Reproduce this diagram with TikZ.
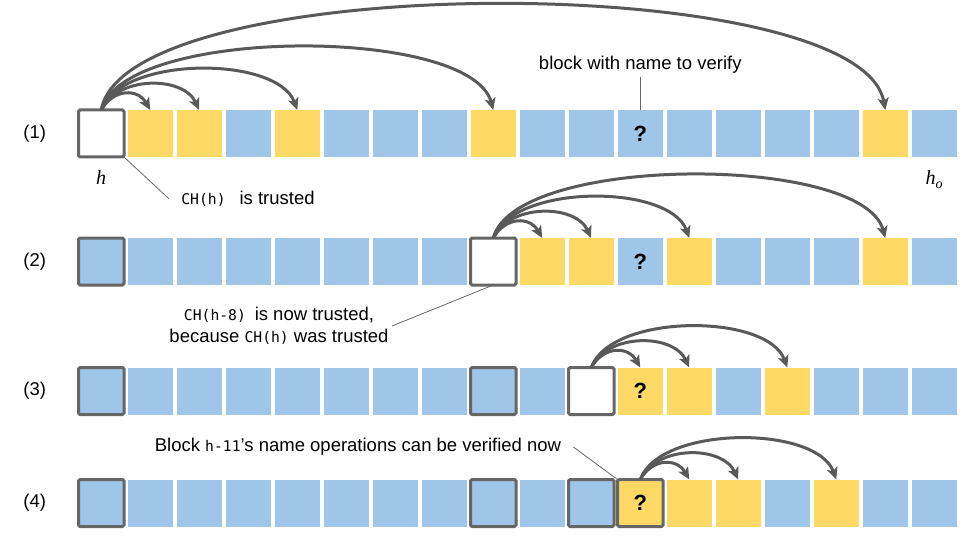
\documentclass[tikz,border=0pt]{standalone}
\usepackage{fontspec}
\setmainfont{Liberation Sans}
\setmonofont{DejaVu Sans Mono}
\newfontfamily\varfont{Liberation Serif}
\usepackage{xcolor}
\usepackage{tikz}
\usetikzlibrary{positioning,arrows.meta}
\definecolor{cellblue}{HTML}{9FC5E8}
\definecolor{cellyellow}{HTML}{FFD966}
\definecolor{edgegray}{HTML}{666666}
\definecolor{arrowgray}{HTML}{595959}
\newcommand\mono[1]{{\fontsize{14.7}{22}\selectfont\ttfamily #1}}

\begin{document}
\begin{tikzpicture}[x=1pt,y=1pt,
                every node/.append style = {font=\fontsize{18.5}{22}\selectfont},
                cell/.style = {minimum width=45.5pt, minimum height=47pt, inner sep=0pt, outer sep=0pt},
                trusted/.style = {draw=edgegray, line width=3pt, rounded corners=1.5pt},
                blu/.style = {cell, fill=cellblue},
                ylw/.style = {cell, fill=cellyellow},
                wht/.style = {cell, fill=white, trusted},
                tblu/.style = {blu, trusted},
                tylw/.style = {ylw, trusted},
                qmark/.style = {font=\fontsize{22}{26}\selectfont\bfseries},
                height/.style = {anchor=base, font=\fontsize{20}{24}\selectfont\varfont\itshape},
                hop/.style = {arrowgray, line width=3pt, -{Stealth[length=12pt,width=11pt,inset=3pt]}},
                hop1/.style = {hop, out=60, in=120, distance=25pt},
                hop2/.style = {hop, out=65, in=115, distance=38pt},
                hop4/.style = {hop, out=70, in=110, distance=58pt},
                hop8/.style = {hop, out=75, in=105, distance=87pt},
                hop16/.style = {hop, out=80, in=100, distance=143pt},
                leader/.style = {edgegray, line width=0.8pt},
                note/.style = {inner xsep=12pt}]
                \useasboundingbox (0,0) rectangle (960,-540);
                \foreach \row/\ys/\cells in {
                    1/133.5/{wht,ylw,ylw,blu,ylw,blu,blu,blu,ylw,blu,blu,blu,blu,blu,blu,blu,ylw,blu},
                    2/261.5/{tblu,blu,blu,blu,blu,blu,blu,blu,wht,ylw,ylw,blu,ylw,blu,blu,blu,ylw,blu},
                    3/391/{tblu,blu,blu,blu,blu,blu,blu,blu,tblu,blu,wht,ylw,ylw,blu,ylw,blu,blu,blu},
                    4/503/{tblu,blu,blu,blu,blu,blu,blu,blu,tblu,blu,tblu,tylw,ylw,ylw,blu,ylw,blu,blu}}{
                    \foreach \kind [count=\n from 0] in \cells
                        \node[\kind] (r\row c\n) at (101.25+49*\n,-\ys) {};
                    \node[left=29pt of r\row c0] {(\row)};
                    \node[qmark] at (r\row c11) {?};
                }
                \foreach \t/\h in {1/1,2/2,4/4,8/8,16/16}
                    \draw[hop\h] (r1c0.north) to (r1c\t.north);
                \foreach \t/\h in {9/1,10/2,12/4,16/8}
                    \draw[hop\h] (r2c8.north) to (r2c\t.north);
                \foreach \t/\h in {11/1,12/2,14/4}
                    \draw[hop\h] (r3c10.north) to (r3c\t.north);
                \foreach \t/\h in {12/1,13/2,15/4}
                    \draw[hop\h] (r4c11.north) to (r4c\t.north);
                \node[above=33pt of r1c11] (verify) {block with name to verify};
                \draw[leader] (verify) -- (r1c11);
                \node[height] (hlab) at (101,-185) {h};
                \node[height] (hzero) at (r1c17 |- hlab.base) {h\textsubscript{o}};
                \node[note] (trust) at (248,-199) {\mono{CH(h) } is trusted};
                \draw[leader] (r1c0.south east) -- (trust.west);
                \node[align=center] (why) at (279,-326) {\mono{CH(h-8) }is now trusted,\\because \mono{CH(h)} was trusted};
                \draw[leader] (r2c8.south) -- (why.east);
                \node[note] (ready) at (358,-447) {Block \mono{h-11}'s name operations can be verified now};
                \draw[leader] (ready.east) -- (r4c11.north west);
            \end{tikzpicture}
\end{document}
